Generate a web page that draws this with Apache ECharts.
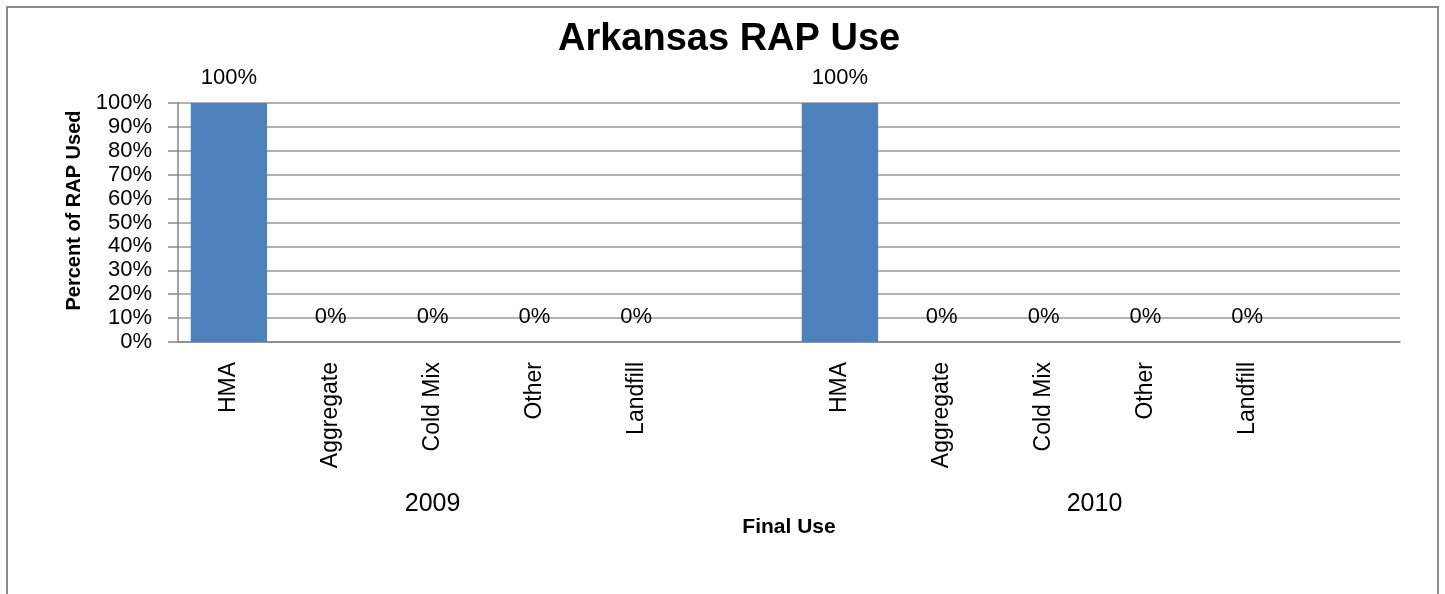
<!DOCTYPE html>
<html>
<head>
<meta charset="utf-8">
<script src="https://cdn.jsdelivr.net/npm/echarts@6/dist/echarts.min.js"></script>
<style>
html,body{margin:0;padding:0;background:#fff;}
#c{width:1445px;height:594px;}
</style>
</head>
<body>
<div id="c"></div>
<script>
var categories = ['HMA','Aggregate','Cold Mix','Other','Landfill','','HMA','Aggregate','Cold Mix','Other','Landfill',''];
var values = [100,0,0,0,0,null,100,0,0,0,0,null];
var groupLabels = ['2009','2010'];
var yTicks = [0,10,20,30,40,50,60,70,80,90,100];

var FONT = "Liberation Sans, Arial, sans-serif";
var chart = echarts.init(document.getElementById('c'));
chart.setOption({
  animation: false,
  backgroundColor: '#fff',
  title: {
    text: 'Arkansas RAP Use',
    left: 553, top: 16,
    textStyle: {fontFamily: FONT, fontSize: 38, fontWeight: 'bold', color: '#000'}
  },
  graphic: [{
    type: 'rect', shape: {x: 7, y: 7, width: 1431, height: 620},
    style: {fill: 'none', stroke: '#8a8a8a', lineWidth: 2}, silent: true
  }],
  grid: {left: 178, right: 45, top: 103, bottom: 252, containLabel: false},
  xAxis: [{
    type: 'category',
    data: categories,
    axisLine: {show: true, lineStyle: {color: '#868686', width: 1.5}},
    axisTick: {show: false},
    axisLabel: {rotate: 90, margin: 20, fontFamily: FONT, fontSize: 23, color: '#000', interval: 0},
    name: 'Final Use', nameLocation: 'middle', nameGap: 175,
    nameTextStyle: {fontFamily: FONT, fontSize: 21, fontWeight: 'bold', color: '#000'}
  }, {
    type: 'value', position: 'bottom', min: 0, max: 12, interval: 0.5,
    axisLine: {show: false}, axisTick: {show: false}, splitLine: {show: false},
    axisLabel: {
      margin: 150, fontFamily: FONT, fontSize: 25, color: '#000',
      formatter: function (v) { return v === 2.5 ? groupLabels[0] : (v === 9 ? groupLabels[1] : ''); }
    }
  }],
  yAxis: {
    type: 'value', min: 0, max: 100, interval: 10,
    axisLine: {show: true, lineStyle: {color: '#868686', width: 1.5}},
    axisTick: {show: true, length: 10, lineStyle: {color: '#868686', width: 1.5}},
    splitLine: {show: true, lineStyle: {color: '#9a9a9a', width: 1.5}},
    axisLabel: {margin: 26, fontFamily: FONT, fontSize: 22, color: '#000',
      formatter: function (v) { return yTicks.indexOf(v) >= 0 ? v + '%' : ''; }},
    name: 'Percent of RAP Used', nameLocation: 'middle', nameGap: 92,
    nameTextStyle: {fontFamily: FONT, fontSize: 20, fontWeight: 'bold', color: '#000', padding: [0, 0, 0, 24]}
  },
  series: [{
    type: 'bar',
    data: values,
    barWidth: '75%',
    itemStyle: {color: '#4F81BD'},
    label: {show: true, position: 'top', distance: 14, fontFamily: FONT, fontSize: 22, color: '#000',
      formatter: function (p) { return p.value == null ? '' : p.value + '%'; }}
  }]
});
</script>
</body>
</html>
